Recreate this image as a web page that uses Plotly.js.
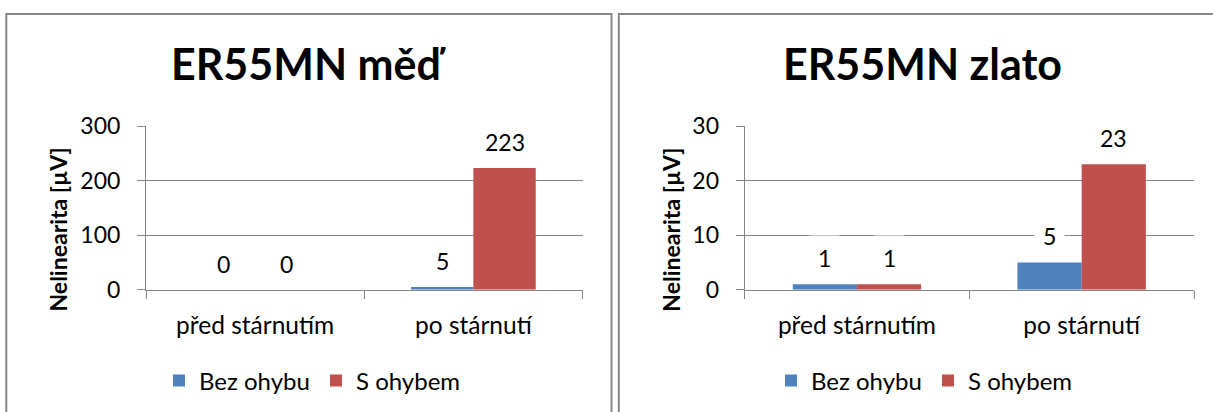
<!DOCTYPE html>
<html>
<head>
<meta charset="utf-8">
<script src="https://cdn.plot.ly/plotly-3.0.1.min.js"></script>
<style>
  html, body { margin: 0; padding: 0; background: #fff; }
  #chart { width: 1213px; height: 412px; }
</style>
</head>
<body>
<div id="chart"></div>
<script>
// Nelinearita termočlánků ER55MN před a po stárnutí
const categories = ['před stárnutím', 'po stárnutí'];
const seriesNames = ['Bez ohybu', 'S ohybem'];
const seriesColors = ['#4F81BD', '#C0504D'];

const medTitle = 'ER55MN měď';
const medBezOhybu = [0, 5];
const medSOhybem = [0, 223];
const medTicks = [0, 100, 200, 300];

const zlatoTitle = 'ER55MN zlato';
const zlatoBezOhybu = [1, 5];
const zlatoSOhybem = [1, 23];
const zlatoTicks = [0, 10, 20, 30];

const yTitle = 'Nelinearita [µV]';

const W = 1213, H = 412;
const FONT = 'Lato, "Open Sans", sans-serif';
const GRID = '#868686';
const BARGAP = 1.5 / 3.5;

const px = v => v / W;
const py = v => 1 - v / H;

function barTraces(values, xa, ya, legendId) {
  return values.map((vals, i) => ({
    type: 'bar',
    name: seriesNames[i],
    x: categories,
    y: vals,
    xaxis: xa,
    yaxis: ya,
    legend: legendId,
    marker: { color: seriesColors[i], line: { width: 0 } },
    hoverinfo: 'skip'
  }));
}

const traces = [
  ...barTraces([medBezOhybu, medSOhybem], 'x', 'y', 'legend'),
  ...barTraces([zlatoBezOhybu, zlatoSOhybem], 'x2', 'y2', 'legend2')
];

// value labels above each bar, on a white box that cuts the gridlines
function valueLabels(values, xa, ya) {
  const half = (1 - BARGAP) / values.length;
  const out = [];
  values.forEach((vals, s) => {
    vals.forEach((v, c) => {
      out.push({
        xref: xa, yref: ya,
        x: c - (1 - BARGAP) / 2 + half * (s + 0.5),
        y: v,
        text: String(v),
        showarrow: false,
        xanchor: 'center', yanchor: 'middle',
        yshift: 26,
        bgcolor: '#ffffff',
        borderpad: 8,
        font: { family: FONT, size: 23, color: '#000' }
      });
    });
  });
  return out;
}

function yAxis(ticks, domainY) {
  return {
    domain: domainY,
    range: [ticks[0], ticks[ticks.length - 1]],
    tickvals: ticks,
    ticktext: ticks.map(String),
    showgrid: true, gridcolor: GRID, gridwidth: 1,
    zeroline: false,
    showline: true, linecolor: GRID, linewidth: 1,
    ticks: 'outside', ticklen: 8, tickcolor: GRID,
    ticklabelstandoff: 12,
    tickfont: { family: FONT, size: 23, color: '#000' },
    fixedrange: true
  };
}

function xAxis(domainX, yId) {
  return {
    domain: domainX,
    anchor: yId,
    type: 'category',
    tickson: 'boundaries',
    ticks: 'outside', ticklen: 8, tickcolor: GRID,
    showline: true, linecolor: GRID, linewidth: 1.5,
    showgrid: false, zeroline: false,
    ticklabelstandoff: 13,
    tickfont: { family: FONT, size: 24.5, color: '#000' },
    fixedrange: true
  };
}

const plotY = [py(289.7), py(126)];

const legendBase = {
  orientation: 'h', xanchor: 'left', yanchor: 'middle', y: py(381),
  font: { family: FONT, size: 24, color: '#000' },
  bgcolor: 'rgba(0,0,0,0)', borderwidth: 0, entrywidth: 112, traceorder: 'normal'
};

const layout = {
  width: W, height: H,
  margin: { l: 0, r: 0, t: 0, b: 0, pad: 0 },
  paper_bgcolor: '#fff', plot_bgcolor: 'rgba(0,0,0,0)',
  barmode: 'group',
  bargap: BARGAP,
  bargroupgap: 0,
  font: { family: FONT, color: '#000' },
  xaxis: xAxis([px(146), px(582.5)], 'y'),
  yaxis: Object.assign(yAxis(medTicks, plotY), { anchor: 'x' }),
  xaxis2: xAxis([px(744.6), px(1194)], 'y2'),
  yaxis2: Object.assign(yAxis(zlatoTicks, plotY), { anchor: 'x2' }),
  showlegend: true,
  legend: Object.assign({}, legendBase, { x: px(159) }),
  legend2: Object.assign({}, legendBase, { x: px(771) }),
  shapes: [
    { type: 'path', xref: 'paper', yref: 'paper',
      path: `M ${px(6.3)} -0.1 L ${px(6.3)} ${py(14)} L ${px(611.5)} ${py(14)} L ${px(611.5)} -0.1`,
      line: { color: '#878787', width: 2 } },
    { type: 'path', xref: 'paper', yref: 'paper',
      path: `M ${px(618.8)} -0.1 L ${px(618.8)} ${py(14)} L 1.1 ${py(14)}`,
      line: { color: '#878787', width: 2 } }
  ],
  annotations: [
    { xref: 'paper', yref: 'paper', x: px(308.5), y: py(64), text: '<b>' + medTitle + '</b>',
      showarrow: false, xanchor: 'center', yanchor: 'middle',
      font: { family: FONT, size: 43, color: '#000' } },
    { xref: 'paper', yref: 'paper', x: px(922), y: py(64), text: '<b>' + zlatoTitle + '</b>',
      showarrow: false, xanchor: 'center', yanchor: 'middle',
      font: { family: FONT, size: 43, color: '#000' } },
    { xref: 'paper', yref: 'paper', x: px(57.5), y: py(230), text: '<b>' + yTitle + '</b>',
      textangle: -90, showarrow: false, xanchor: 'center', yanchor: 'middle',
      font: { family: FONT, size: 23, color: '#000' } },
    { xref: 'paper', yref: 'paper', x: px(670.7), y: py(230), text: '<b>' + yTitle + '</b>',
      textangle: -90, showarrow: false, xanchor: 'center', yanchor: 'middle',
      font: { family: FONT, size: 23, color: '#000' } },
    ...valueLabels([medBezOhybu, medSOhybem], 'x', 'y'),
    ...valueLabels([zlatoBezOhybu, zlatoSOhybem], 'x2', 'y2')
  ]
};

Plotly.newPlot('chart', traces, layout, { staticPlot: true, displayModeBar: false });
</script>
</body>
</html>
